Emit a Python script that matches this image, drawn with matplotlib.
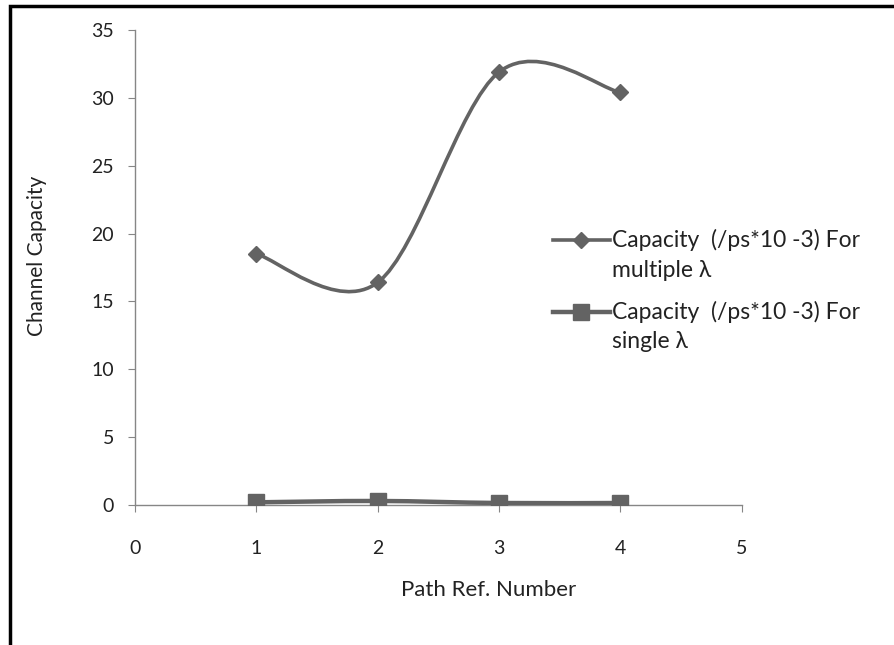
import numpy as np
import matplotlib.pyplot as plt
from matplotlib.path import Path
from matplotlib.patches import PathPatch, Rectangle
from matplotlib.lines import Line2D

plt.rcParams['font.family'] = ['Lato', 'DejaVu Sans']

# Datos
path_ref = [1, 2, 3, 4]
cap_multiple = [18.5, 16.4, 31.9, 30.4]
cap_single = [0.2, 0.3, 0.15, 0.15]
label_multiple = ['Capacity  (/ps*10 -3) For', 'multiple λ']
label_single = ['Capacity  (/ps*10 -3) For', 'single λ']

grey = '#636363'
axis_grey = '#868686'
text_col = '#222222'


def smooth_path(xs, ys):
    # curva suavizada tipo Excel (Bezier con tension 1/6)
    pts = np.column_stack([xs, ys]).astype(float)
    n = len(pts)
    verts = [pts[0]]
    codes = [Path.MOVETO]
    for i in range(n - 1):
        p_prev = pts[max(i - 1, 0)]
        p0 = pts[i]
        p1 = pts[i + 1]
        p_next = pts[min(i + 2, n - 1)]
        c1 = p0 + (p1 - p_prev) / 6
        c2 = p1 - (p_next - p0) / 6
        verts += [c1, c2, p1]
        codes += [Path.CURVE4] * 3
    return Path(verts, codes)


fig = plt.figure(figsize=(8.95, 6.45), dpi=100)
ax = fig.add_axes([0.1508, 0.217, 0.678, 0.7365])

ax.add_patch(PathPatch(smooth_path(path_ref, cap_multiple), fill=False,
                       edgecolor=grey, lw=2.6, zorder=3))
ax.plot(path_ref, cap_multiple, linestyle='none', marker='D', ms=8.5,
        color=grey, zorder=4)
ax.add_patch(PathPatch(smooth_path(path_ref, cap_single), fill=False,
                       edgecolor=grey, lw=3.2, zorder=3))
ax.plot(path_ref, cap_single, linestyle='none', marker='s', ms=11,
        color=grey, zorder=4)

ax.set_xlim(0, 5)
ax.set_ylim(0, 35)
ax.set_xticks(range(0, 6))
ax.set_yticks(range(0, 36, 5))
for s in ['top', 'right']:
    ax.spines[s].set_visible(False)
for s in ['left', 'bottom']:
    ax.spines[s].set_color(axis_grey)
    ax.spines[s].set_linewidth(1.0)
ax.tick_params(axis='both', colors=axis_grey, labelcolor=text_col,
               labelsize=14, length=5, direction='out')
ax.tick_params(axis='x', pad=20)
ax.tick_params(axis='y', pad=10)

W, H = 895.0, 645.0
fig.text(37 / W, 1 - 256 / H, 'Channel Capacity', fontsize=15, color=text_col,
         rotation=90, ha='center', va='center')
fig.text(489 / W, 1 - 590 / H, 'Path Ref. Number', fontsize=16, color=text_col,
         ha='center', va='center')

# leyenda dibujada a mano (linea alineada con la primera linea del texto)
entries = [('D', 8.5, 2.6, label_multiple, 240),
           ('s', 11, 3.2, label_single, 312)]
for mk, ms, lw, lines, ypx in entries:
    y = 1 - ypx / H
    fig.add_artist(Line2D([553 / W, 610 / W], [y, y], transform=fig.transFigure,
                          color=grey, lw=lw))
    fig.add_artist(Line2D([581 / W], [y], transform=fig.transFigure,
                          color=grey, marker=mk, ms=ms, linestyle='none'))
    for k, t in enumerate(lines):
        fig.text(612 / W, 1 - (ypx + 30 * k) / H, t, fontsize=16.5,
                 color=text_col, ha='left', va='center')

# marco exterior
fig.patches.append(Rectangle((0.011, -0.1), 1.2, 1.09, transform=fig.transFigure,
                             fill=False, edgecolor='black', lw=2.5))

fig.savefig('out.png', dpi=100)
